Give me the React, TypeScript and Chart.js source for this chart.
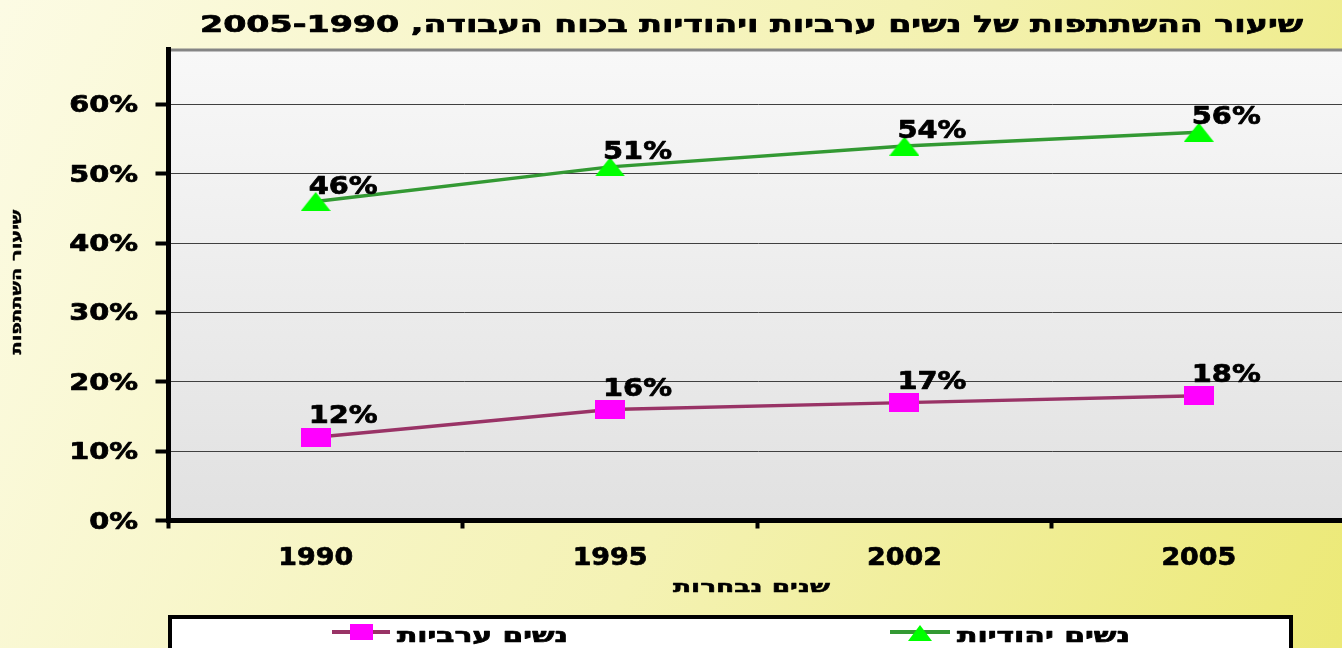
import React, { useEffect, useRef } from "react";
import { Chart, registerables } from "chart.js";

Chart.register(...registerables);

const years = ["1990", "1995", "2002", "2005"];
const arabWomen = [12, 16, 17, 18];
const jewishWomen = [46, 51, 54, 56];
const yTicks = [0, 10, 20, 30, 40, 50, 60];
const seriesNames = ["נשים ערביות", "נשים יהודיות"];
const titleText = "שיעור ההשתתפות של נשים ערביות ויהודיות בכוח העבודה, 2005-1990";
const yTitle = "שיעור השתתפות";
const xTitle = "שנים נבחרות";

const FONT = "'DejaVu Sans', 'Liberation Sans', sans-serif";

function makeSquare(w: number, h: number, color: string) {
  const c = document.createElement("canvas");
  c.width = w;
  c.height = h;
  const g = c.getContext("2d")!;
  g.fillStyle = color;
  g.fillRect(0, 0, w, h);
  return c;
}

function makeTriangle(w: number, h: number, color: string) {
  const c = document.createElement("canvas");
  c.width = w;
  c.height = h;
  const g = c.getContext("2d")!;
  g.fillStyle = color;
  g.beginPath();
  g.moveTo(0, h);
  g.lineTo(w / 2, 0);
  g.lineTo(w, h);
  g.closePath();
  g.fill();
  return c;
}

type TextOpts = { width?: number; sx?: number; rtl?: boolean; rotate?: number; stroke?: number };

function drawText(
  ctx: CanvasRenderingContext2D,
  text: string,
  x: number,
  y: number,
  size: number,
  align: CanvasTextAlign,
  opts: TextOpts = {}
) {
  ctx.save();
  ctx.font = `bold ${size}px ${FONT}`;
  (ctx as any).direction = opts.rtl ? "rtl" : "ltr";
  const w = ctx.measureText(text).width;
  const sx = opts.width ? opts.width / w : opts.sx ?? 1;
  ctx.translate(x, y);
  if (opts.rotate) ctx.rotate(opts.rotate);
  ctx.scale(sx, 1);
  ctx.textAlign = align;
  ctx.textBaseline = "alphabetic";
  ctx.fillStyle = "#000";
  ctx.fillText(text, 0, 0);
  const sw = opts.stroke ?? 0.7;
  if (sw > 0) {
    ctx.strokeStyle = "#000";
    ctx.lineWidth = sw;
    ctx.lineJoin = "round";
    ctx.strokeText(text, 0, 0);
  }
  ctx.restore();
}

const backgroundPlugin = {
  id: "bgPlugin",
  beforeDraw(chart: any) {
    const { ctx, chartArea } = chart;
    ctx.save();
    const g = ctx.createLinearGradient(0, 0, 1342, 648);
    g.addColorStop(0, "#FCFBE4");
    g.addColorStop(0.55, "#F4F2B4");
    g.addColorStop(1, "#ECE976");
    ctx.fillStyle = g;
    ctx.fillRect(0, 0, chart.width, chart.height);
    const pg = ctx.createLinearGradient(0, chartArea.top, 0, chartArea.bottom);
    pg.addColorStop(0, "#F8F8F8");
    pg.addColorStop(1, "#E1E1E1");
    ctx.fillStyle = pg;
    ctx.fillRect(chartArea.left, chartArea.top, chartArea.right - chartArea.left, chartArea.bottom - chartArea.top);
    ctx.strokeStyle = "#858585";
    ctx.lineWidth = 3;
    ctx.beginPath();
    ctx.moveTo(chartArea.left, chartArea.top + 1);
    ctx.lineTo(chartArea.right, chartArea.top + 1);
    ctx.stroke();
    ctx.restore();
  },
};

const textPlugin = {
  id: "textPlugin",
  afterDatasetsDraw(chart: any) {
    const { ctx } = chart;
    chart.data.datasets.forEach((ds: any, di: number) => {
      const meta = chart.getDatasetMeta(di);
      meta.data.forEach((pt: any, i: number) => {
        const v = ds.data[i];
        const dy = di === 0 ? 14 : 8;
        drawText(ctx, `${v}%`, pt.x - 7, pt.y - dy, 24, "left", { sx: 1.2 });
      });
    });
  },
  afterDraw(chart: any) {
    const { ctx } = chart;
    const ys = chart.scales.y;
    const xs = chart.scales.x;
    yTicks.forEach((t) => {
      const py = ys.getPixelForValue(t);
      drawText(ctx, `${t}%`, 138, py + 8, 23, "right", { sx: 1.25 });
    });
    years.forEach((lab, i) => {
      const px = xs.getPixelForValue(i);
      drawText(ctx, lab, px, 565, 24, "center", { sx: 1.12 });
    });
    drawText(ctx, titleText, 1303, 32, 23, "right", { rtl: true, width: 1103 });
    drawText(ctx, xTitle, 830, 592, 17, "right", { rtl: true, width: 157, stroke: 0.5 });
    drawText(ctx, yTitle, 21, 282, 14, "center", { rtl: true, width: 145, rotate: -Math.PI / 2, stroke: 0.4 });

    ctx.save();
    ctx.fillStyle = "#FFFFFF";
    ctx.fillRect(170, 617, 1121, 60);
    ctx.strokeStyle = "#000";
    ctx.lineWidth = 4;
    ctx.strokeRect(170, 617, 1121, 60);
    ctx.lineWidth = 4;
    ctx.strokeStyle = "#993366";
    ctx.beginPath();
    ctx.moveTo(332, 632);
    ctx.lineTo(390, 632);
    ctx.stroke();
    ctx.fillStyle = "#FF00FF";
    ctx.fillRect(350, 624, 23, 16);
    ctx.strokeStyle = "#339933";
    ctx.beginPath();
    ctx.moveTo(890, 632);
    ctx.lineTo(950, 632);
    ctx.stroke();
    ctx.fillStyle = "#00FF00";
    ctx.beginPath();
    ctx.moveTo(908, 641);
    ctx.lineTo(920, 625);
    ctx.lineTo(932, 641);
    ctx.closePath();
    ctx.fill();
    ctx.restore();
    drawText(ctx, seriesNames[0], 568, 642, 20, "right", { rtl: true, width: 171 });
    drawText(ctx, seriesNames[1], 1130, 642, 20, "right", { rtl: true, width: 173 });
  },
};

export default function App() {
  const ref = useRef<HTMLCanvasElement | null>(null);
  useEffect(() => {
    if (!ref.current) return;
    const sq = makeSquare(30, 19, "#FF00FF");
    const tri = makeTriangle(30, 19, "#00FF00");
    const chart = new Chart(ref.current, {
      type: "line",
      data: {
        labels: years,
        datasets: [
          {
            label: seriesNames[0],
            data: arabWomen,
            borderColor: "#993366",
            backgroundColor: "#FF00FF",
            borderWidth: 3.5,
            pointStyle: sq as any,
            pointRadius: 10,
            tension: 0,
          },
          {
            label: seriesNames[1],
            data: jewishWomen,
            borderColor: "#339933",
            backgroundColor: "#00FF00",
            borderWidth: 3.5,
            pointStyle: tri as any,
            pointRadius: 10,
            tension: 0,
          },
        ],
      },
      options: {
        responsive: false,
        animation: false,
        devicePixelRatio: 1,
        events: [],
        layout: { padding: { top: 49, right: 14, left: 0, bottom: 0 } },
        plugins: {
          legend: { display: false },
          title: { display: false },
          tooltip: { enabled: false },
        },
        scales: {
          x: {
            offset: true,
            grid: {
              offset: true,
              drawOnChartArea: false,
              drawTicks: true,
              tickLength: 8,
              tickWidth: 4,
              tickColor: "#000",
            },
            border: { color: "#000", width: 5 },
            ticks: { display: false },
            afterFit: (s: any) => {
              s.height = 648 - 520.5;
            },
          },
          y: {
            min: 0,
            max: 68,
            afterBuildTicks: (s: any) => {
              s.ticks = yTicks.map((v) => ({ value: v }));
            },
            grid: {
              color: "#404040",
              lineWidth: 1,
              drawTicks: true,
              tickLength: 13,
              tickWidth: 4,
              tickColor: "#000",
            },
            border: { color: "#000", width: 5 },
            ticks: { display: false },
            afterFit: (s: any) => {
              s.width = 168.5;
            },
          },
        },
      },
      plugins: [backgroundPlugin, textPlugin],
    });
    return () => chart.destroy();
  }, []);
  return (
    <div style={{ position: "fixed", left: 0, top: 0, width: 1342, height: 648, overflow: "hidden" }}>
      <canvas ref={ref} width={1360} height={648} style={{ display: "block" }} />
    </div>
  );
}
